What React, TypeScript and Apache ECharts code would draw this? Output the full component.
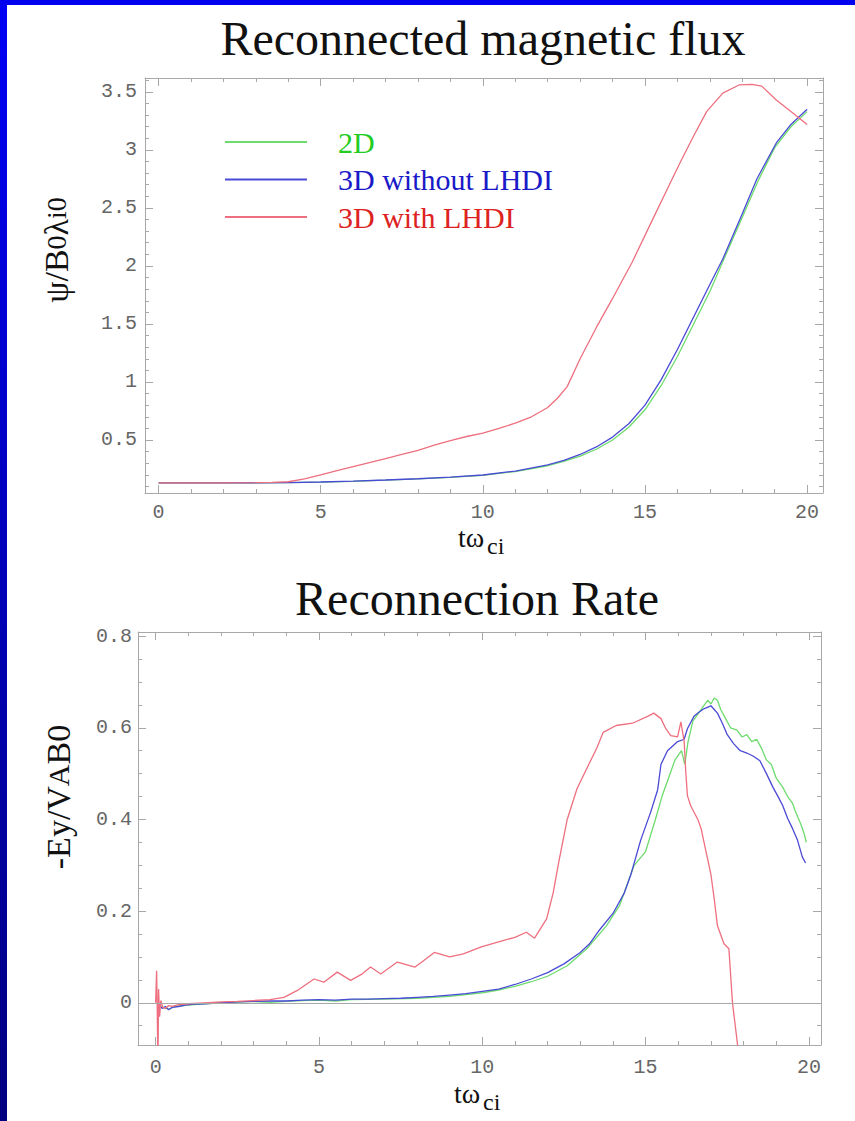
import React, { useEffect, useRef } from "react";
import * as echarts from "echarts";

// ---------- Reconnected magnetic flux (top panel) ----------
const fluxT2D = [0, 2, 4, 5, 6, 7, 8, 9, 10, 11, 12, 12.5, 13, 13.5, 14, 14.5, 15, 15.5, 16, 16.5, 17, 17.5, 18, 18.5, 19, 19.5, 20];
const flux2D = [0.13, 0.13, 0.132, 0.137, 0.144, 0.154, 0.165, 0.178, 0.195, 0.228, 0.278, 0.315, 0.36, 0.42, 0.5, 0.61, 0.76, 0.97, 1.22, 1.5, 1.78, 2.1, 2.42, 2.74, 3.02, 3.2, 3.33];

const fluxT3D = [0, 2, 4, 5, 6, 7, 8, 9, 10, 11, 12, 12.5, 13, 13.5, 14, 14.5, 15, 15.5, 16, 16.5, 17, 17.4, 18, 18.45, 19.05, 19.5, 20];
const flux3D = [0.13, 0.13, 0.133, 0.138, 0.145, 0.155, 0.166, 0.18, 0.198, 0.232, 0.285, 0.325, 0.375, 0.44, 0.525, 0.64, 0.8, 1.02, 1.28, 1.56, 1.84, 2.06, 2.45, 2.75, 3.06, 3.22, 3.35];

const fluxTLHDI = [0, 1, 2, 3, 3.5, 4, 4.5, 5, 5.5, 6, 6.5, 7, 7.5, 8, 8.5, 9, 9.5, 10, 10.5, 11, 11.5, 12, 12.3, 12.6, 13, 13.5, 14, 14.6, 15.2, 15.7, 16.1, 16.5, 16.9, 17.4, 17.9, 18.3, 18.6, 19.05, 19.55, 20];
const fluxLHDI = [0.13, 0.13, 0.13, 0.132, 0.135, 0.14, 0.165, 0.2, 0.235, 0.27, 0.305, 0.34, 0.375, 0.41, 0.455, 0.495, 0.53, 0.56, 0.6, 0.645, 0.7, 0.78, 0.86, 0.96, 1.2, 1.47, 1.72, 2.03, 2.38, 2.67, 2.9, 3.12, 3.33, 3.49, 3.56, 3.565, 3.55, 3.43, 3.32, 3.22];

// ---------- Reconnection rate (bottom panel) ----------
const rateT2D = [0.1, 0.2, 0.4, 0.6, 1, 1.5, 2, 3, 3.5, 4, 4.5, 5, 5.5, 6, 7, 8, 9, 10, 10.5, 11, 11.5, 12, 12.6, 13.2, 13.8, 14.2, 14.65, 15, 15.3, 15.5, 15.7, 15.9, 16.1, 16.2, 16.3, 16.45, 16.6, 16.75, 16.9, 17.0, 17.1, 17.2, 17.3, 17.45, 17.6, 17.8, 17.95, 18.1, 18.25, 18.4, 18.55, 18.7, 18.85, 19.0, 19.2, 19.35, 19.5, 19.6, 19.75, 19.85, 19.92];
const rate2D = [-0.005, -0.01, -0.014, -0.008, -0.005, -0.002, 0.0, 0.003, 0.001, 0.003, 0.005, 0.006, 0.004, 0.007, 0.008, 0.01, 0.014, 0.022, 0.028, 0.036, 0.046, 0.058, 0.081, 0.118, 0.168, 0.212, 0.3, 0.33, 0.4, 0.45, 0.49, 0.53, 0.55, 0.52, 0.57, 0.615, 0.63, 0.645, 0.66, 0.652, 0.665, 0.66, 0.64, 0.62, 0.6, 0.595, 0.58, 0.585, 0.57, 0.575, 0.555, 0.53, 0.52, 0.49, 0.47, 0.45, 0.435, 0.415, 0.39, 0.37, 0.35];

const rateT3D = [0.1, 0.2, 0.3, 0.4, 0.5, 0.7, 0.9, 1.2, 1.5, 2, 2.5, 3, 3.5, 4, 4.5, 5, 5.5, 6, 6.5, 7, 7.5, 8, 8.5, 9, 9.5, 10, 10.5, 11, 11.5, 12, 12.5, 13, 13.3, 13.6, 14, 14.35, 14.55, 14.85, 15.15, 15.37, 15.47, 15.67, 15.98, 16.18, 16.28, 16.48, 16.65, 16.8, 17.0, 17.1, 17.2, 17.35, 17.5, 17.7, 17.9, 18.1, 18.3, 18.5, 18.7, 18.9, 19.04, 19.2, 19.35, 19.5, 19.65, 19.8, 19.9];
const rate3D = [-0.004, -0.012, -0.008, -0.015, -0.01, -0.008, -0.005, -0.003, -0.002, 0.0, 0.002, 0.003, 0.004, 0.004, 0.006, 0.007, 0.006, 0.008, 0.008, 0.009, 0.01, 0.012, 0.014, 0.017, 0.02, 0.025, 0.03, 0.04, 0.052, 0.066, 0.085, 0.11, 0.13, 0.16, 0.195, 0.24, 0.28, 0.355, 0.415, 0.465, 0.52, 0.55, 0.57, 0.575, 0.598, 0.625, 0.635, 0.642, 0.648, 0.64, 0.632, 0.61, 0.585, 0.565, 0.55, 0.545, 0.538, 0.528, 0.5, 0.47, 0.452, 0.43, 0.402, 0.38, 0.355, 0.318, 0.305];

const rateTLHDI = [0, 0.03, 0.05, 0.07, 0.09, 0.12, 0.16, 0.22, 0.3, 0.4, 0.5, 0.7, 1.0, 1.5, 2.0, 2.5, 3.0, 3.5, 3.93, 4.34, 4.85, 5.15, 5.56, 5.97, 6.3, 6.58, 6.89, 7.4, 7.94, 8.2, 8.53, 9.0, 9.42, 9.97, 10.5, 11.0, 11.35, 11.6, 11.97, 12.17, 12.35, 12.6, 12.9, 13.3, 13.5, 13.7, 14.1, 14.6, 15.06, 15.25, 15.47, 15.62, 15.77, 15.98, 16.08, 16.18, 16.23, 16.28, 16.38, 16.6, 16.7, 16.85, 17.0, 17.1, 17.2, 17.4, 17.55, 17.66, 17.83, 17.9];
const rateLHDI = [0, 0.07, -0.02, -0.15, 0.03, -0.03, 0.005, -0.01, -0.012, -0.006, -0.008, -0.004, -0.002, 0.0, 0.002, 0.003, 0.005, 0.007, 0.012, 0.027, 0.052, 0.045, 0.067, 0.049, 0.062, 0.078, 0.063, 0.089, 0.078, 0.092, 0.11, 0.1, 0.107, 0.122, 0.133, 0.143, 0.154, 0.141, 0.183, 0.24, 0.31, 0.4, 0.467, 0.526, 0.555, 0.59, 0.605, 0.61, 0.625, 0.632, 0.62, 0.598, 0.583, 0.58, 0.613, 0.57, 0.504, 0.452, 0.43, 0.4, 0.38, 0.33, 0.28, 0.227, 0.168, 0.129, 0.118, 0.0, -0.1, -0.15];

// ---------- Ticks / labels ----------
const xMajorTicks = [0, 5, 10, 15, 20];
const xMinorTicks = [0, 1, 2, 3, 4, 5, 6, 7, 8, 9, 10, 11, 12, 13, 14, 15, 16, 17, 18, 19, 20];
const fluxMajorTicks = [0.5, 1, 1.5, 2, 2.5, 3, 3.5];
const fluxMinorTicks = [0.1, 0.2, 0.3, 0.4, 0.5, 0.6, 0.7, 0.8, 0.9, 1, 1.1, 1.2, 1.3, 1.4, 1.5, 1.6, 1.7, 1.8, 1.9, 2, 2.1, 2.2, 2.3, 2.4, 2.5, 2.6, 2.7, 2.8, 2.9, 3, 3.1, 3.2, 3.3, 3.4, 3.5, 3.6];
const rateMajorTicks = [0, 0.2, 0.4, 0.6, 0.8];
const rateMinorTicks = [-0.05, 0, 0.05, 0.1, 0.15, 0.2, 0.25, 0.3, 0.35, 0.4, 0.45, 0.5, 0.55, 0.6, 0.65, 0.7, 0.75, 0.8];

const seriesNames = ["2D", "3D without LHDI", "3D with LHDI"];
const lineColors = ["#6ddc6d", "#4a4ad6", "#ee6f7f"];
const legendTextColors = ["#22cc22", "#1a1ac8", "#dd2222"];

const SERIF = '"Liberation Serif", "Times New Roman", serif';
const MONO = '"Liberation Mono", "Courier New", monospace';
const FRAME = "#a8a8a8";
const TICK_LABEL = "#666666";

function xAxisSet(grid: number, minorGrid: number, min: number, max: number, margin: number) {
  const main = (position: string, labels: boolean) => ({
    type: "value", gridIndex: grid, position, min, max,
    axisLine: { show: true, onZero: false, lineStyle: { color: FRAME, width: 1 } },
    axisTick: { show: true, inside: true, length: 8, customValues: xMajorTicks, lineStyle: { color: FRAME } },
    axisLabel: { show: labels, customValues: xMajorTicks, margin, fontFamily: MONO, fontSize: 20, color: TICK_LABEL, formatter: (v: number) => String(v) },
    splitLine: { show: false },
  });
  const minor = (position: string) => ({
    type: "value", gridIndex: minorGrid, position, min, max,
    axisLine: { show: false, onZero: false },
    axisTick: { show: true, inside: true, length: 4, customValues: xMinorTicks, lineStyle: { color: FRAME } },
    axisLabel: { show: false },
    splitLine: { show: false },
  });
  return [main("bottom", true), main("top", false), minor("bottom"), minor("top")];
}

function yAxisSet(grid: number, minorGrid: number, min: number, max: number, major: number[], minorT: number[], margin: number) {
  const main = (position: string, labels: boolean) => ({
    type: "value", gridIndex: grid, position, min, max,
    axisLine: { show: true, onZero: false, lineStyle: { color: FRAME, width: 1 } },
    axisTick: { show: true, inside: true, length: 8, customValues: major, lineStyle: { color: FRAME } },
    axisLabel: { show: labels, customValues: major, margin, fontFamily: MONO, fontSize: 20, color: TICK_LABEL, formatter: (v: number) => String(v) },
    splitLine: { show: false },
  });
  const minor = (position: string) => ({
    type: "value", gridIndex: minorGrid, position, min, max,
    axisLine: { show: false, onZero: false },
    axisTick: { show: true, inside: true, length: 4, customValues: minorT, lineStyle: { color: FRAME } },
    axisLabel: { show: false },
    splitLine: { show: false },
  });
  return [main("left", true), main("right", false), minor("left"), minor("right")];
}

function lineSeries(nameIdx: number, ts: number[], vs: number[], axisIdx: number, extra: any = {}) {
  const c = lineColors[nameIdx];
  return {
    type: "line",
    name: seriesNames[nameIdx],
    xAxisIndex: axisIdx,
    yAxisIndex: axisIdx,
    data: ts.map((t, i) => [t, vs[i]]),
    symbol: "none",
    showSymbol: false,
    color: c,
    itemStyle: { color: c },
    lineStyle: { color: c, width: 1.3 },
    clip: true,
    silent: true,
    z: 2 + nameIdx,
    ...extra,
  };
}

function buildOption() {
  const grids = [
    { left: 145, top: 78, width: 678, height: 415 },
    { left: 145, top: 78, width: 678, height: 415 },
    { left: 138, top: 632, width: 683, height: 413 },
    { left: 138, top: 632, width: 683, height: 413 },
  ];
  const xAxes = [
    ...xAxisSet(0, 1, -0.42, 20.49, 9),
    ...xAxisSet(2, 3, -0.54, 20.37, 12),
  ];
  const yAxes = [
    ...yAxisSet(0, 1, 0.043, 3.62, fluxMajorTicks, fluxMinorTicks, 8),
    ...yAxisSet(2, 3, -0.092, 0.809, rateMajorTicks, rateMinorTicks, 6),
  ];
  const series = [
    lineSeries(0, fluxT2D, flux2D, 0),
    lineSeries(1, fluxT3D, flux3D, 0),
    lineSeries(2, fluxTLHDI, fluxLHDI, 0),
    lineSeries(0, rateT2D, rate2D, 4),
    lineSeries(1, rateT3D, rate3D, 4, {
      markLine: {
        silent: true,
        symbol: ["none", "none"],
        label: { show: false },
        lineStyle: { color: "#a8a8a8", type: "solid", width: 1 },
        data: [{ yAxis: 0 }],
      },
    }),
    lineSeries(2, rateTLHDI, rateLHDI, 4),
  ];

  const graphic = [
    {
      type: "rect", silent: true, z: 0,
      shape: { x: 0, y: 0, width: 7, height: 1121 },
      style: { fill: new echarts.graphic.LinearGradient(0, 0, 0, 1, [{ offset: 0, color: "#0000f5" }, { offset: 1, color: "#000080" }]) },
    },
    { type: "rect", silent: true, z: 0, shape: { x: 0, y: 0, width: 855, height: 5 }, style: { fill: "#0000f0" } },
    {
      type: "text", x: 483, y: 38,
      style: { text: "Reconnected magnetic flux", fontFamily: SERIF, fontSize: 48, fill: "#111", align: "center", verticalAlign: "middle", textAlign: "center", textVerticalAlign: "middle" },
    },
    {
      type: "text", x: 477, y: 598,
      style: { text: "Reconnection Rate", fontFamily: SERIF, fontSize: 48, fill: "#111", align: "center", verticalAlign: "middle", textAlign: "center", textVerticalAlign: "middle" },
    },
    // x axis names
    { type: "text", x: 458, y: 537, style: { text: "tω", fontFamily: SERIF, fontSize: 28, fill: "#111", align: "left", verticalAlign: "middle", textAlign: "left", textVerticalAlign: "middle" } },
    { type: "text", x: 487, y: 546, style: { text: "ci", fontFamily: SERIF, fontSize: 24, fill: "#111", align: "left", verticalAlign: "middle", textAlign: "left", textVerticalAlign: "middle" } },
    { type: "text", x: 454, y: 1093, style: { text: "tω", fontFamily: SERIF, fontSize: 28, fill: "#111", align: "left", verticalAlign: "middle", textAlign: "left", textVerticalAlign: "middle" } },
    { type: "text", x: 483, y: 1102, style: { text: "ci", fontFamily: SERIF, fontSize: 24, fill: "#111", align: "left", verticalAlign: "middle", textAlign: "left", textVerticalAlign: "middle" } },
    // y axis names
    {
      type: "text", x: 56, y: 250, rotation: Math.PI / 2,
      style: {
        text: "{a|ψ/B}{b|0}{a|λ}{b|i0}",
        align: "center", verticalAlign: "middle", textAlign: "center", textVerticalAlign: "middle",
        rich: {
          a: { fontFamily: SERIF, fontSize: 34, fill: "#111", color: "#111" },
          b: { fontFamily: SERIF, fontSize: 28, fill: "#111", color: "#111" },
        },
      },
    },
    {
      type: "text", x: 58, y: 797, rotation: Math.PI / 2,
      style: {
        text: "{a|-Ey/V}{b|A}{a|B0}",
        align: "center", verticalAlign: "middle", textAlign: "center", textVerticalAlign: "middle",
        rich: {
          a: { fontFamily: SERIF, fontSize: 34, fill: "#111", color: "#111" },
          b: { fontFamily: SERIF, fontSize: 30, fill: "#111", color: "#111" },
        },
      },
    },
  ];

  return {
    animation: false,
    backgroundColor: "#ffffff",
    grid: grids,
    xAxis: xAxes,
    yAxis: yAxes,
    legend: {
      orient: "vertical",
      left: 220,
      top: 122,
      itemWidth: 82,
      itemHeight: 2,
      itemGap: 7.5,
      icon: "rect",
      selectedMode: false,
      data: seriesNames.map((n, i) => ({ name: n, textStyle: { color: legendTextColors[i] } })),
      textStyle: { fontFamily: SERIF, fontSize: 30, lineHeight: 30, padding: [0, 0, 0, 26] },
    },
    series,
    graphic,
  };
}

export default function App() {
  const ref = useRef<HTMLDivElement>(null);
  useEffect(() => {
    document.body.style.margin = "0";
    const chart = echarts.init(ref.current as HTMLDivElement, null, { renderer: "svg" });
    chart.setOption(buildOption() as any);
    return () => chart.dispose();
  }, []);
  return (
    <div
      ref={ref}
      style={{ position: "absolute", left: 0, top: 0, width: 855, height: 1121, background: "#fff" }}
    />
  );
}
